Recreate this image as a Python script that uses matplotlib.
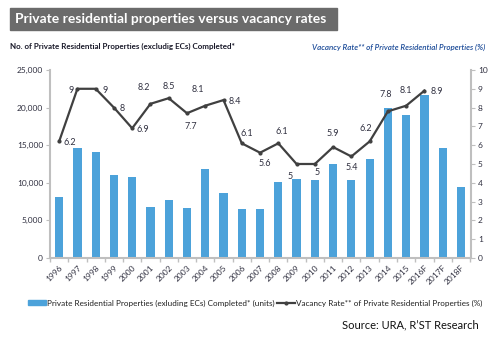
import matplotlib.pyplot as plt
from matplotlib.patches import Rectangle
from matplotlib.lines import Line2D
from matplotlib.ticker import FuncFormatter, FixedLocator

plt.rcParams['font.family'] = ['Lato', 'DejaVu Sans']

years = ["1996", "1997", "1998", "1999", "2000", "2001", "2002", "2003",
         "2004", "2005", "2006", "2007", "2008", "2009", "2010", "2011",
         "2012", "2013", "2014", "2015", "2016F", "2017F", "2018F"]
completed = [8100, 14600, 14100, 11050, 10800, 6800, 7700, 6650, 11850, 8650,
             6550, 6550, 10100, 10500, 10400, 12500, 10400, 13150, 20000,
             19000, 21700, 14600, 9500]
vacancy = [6.2, 9, 9, 8, 6.9, 8.2, 8.5, 7.7, 8.1, 8.4, 6.1, 5.6, 6.1, 5, 5,
           5.9, 5.4, 6.2, 7.8, 8.1, 8.9]

# where each vacancy label sits relative to its point (pixels)
label_offsets = [(11, -1), (-6, -2), (9, -2), (8, -1), (11, -1), (-7, 16),
                 (0, 12), (4, -13), (-7, 16), (11, -1), (5, 10), (5, -11),
                 (4, 12), (-6, -13), (2, -9), (0, 14), (0, -11), (-4, 13),
                 (-2, 17), (0, 15), (12, -1)]

bar_color = "#4ca2da"
line_color = "#404040"
spine_color = "#bfbfbf"
text_color = "#303040"

fig = plt.figure(figsize=(5, 3.48), dpi=100)
ax = fig.add_axes([0.1, 0.2586, 0.842, 0.5403])
ax2 = ax.twinx()

x = list(range(len(years)))
ax.bar(x, completed, width=0.45, color=bar_color, zorder=2)
ax.set_xlim(-0.5, len(years) - 0.45)
ax.set_ylim(0, 25000)
ax.set_yticks(range(0, 25001, 5000))
ax.yaxis.set_major_formatter(FuncFormatter(lambda v, p: f"{int(v):,}"))

ax.set_xticks(x)
ax.set_xticklabels(years, rotation=45, ha="right", rotation_mode="anchor",
                   fontsize=6, color=text_color)
ax.tick_params(axis="x", which="major", length=0, pad=4)
ax.xaxis.set_minor_locator(FixedLocator([i + 0.5 for i in range(-1, len(years))]))
ax.tick_params(axis="x", which="minor", length=3, color=spine_color, width=1)
ax.tick_params(axis="y", length=3, color=spine_color, labelsize=6,
               labelcolor=text_color, pad=2)

xv = x[:len(vacancy)]
ax2.plot(xv, vacancy, color=line_color, lw=1.6, marker="o", ms=2, zorder=3)
ax2.set_ylim(0, 10)
ax2.set_yticks(range(0, 11))
ax2.tick_params(axis="y", length=3, color=spine_color, labelsize=6,
                labelcolor=text_color, pad=2)

for xi, v, (dx, dy) in zip(xv, vacancy, label_offsets):
    ax2.annotate(f"{v:g}", (xi, v), xytext=(dx, dy), textcoords="offset pixels",
                 ha="center", va="center", fontsize=6.5, color=text_color)

for a in (ax, ax2):
    a.spines["top"].set_visible(False)
    for s in ("left", "right", "bottom"):
        a.spines[s].set_color(spine_color)
        a.spines[s].set_linewidth(1.5)
ax2.spines["left"].set_visible(False)
ax2.spines["bottom"].set_visible(False)
ax.spines["right"].set_visible(False)

# title banner
fig.patches.append(Rectangle((10 / 500, 1 - 30 / 348), 327 / 500, 22 / 348,
                             transform=fig.transFigure, color="#6b6b6b"))
fig.text(15 / 500, 1 - 19 / 348, "Private residential properties versus vacancy rates",
         color="white", fontsize=10, fontweight="bold", va="center")

fig.text(10 / 500, 1 - 46 / 348,
         "No. of Private Residential Properties (excludig ECs) Completed*",
         fontsize=5.8, fontweight="bold", color="#1a1a2a", va="center")
fig.text(485 / 500, 1 - 47 / 348,
         "Vacancy Rate** of Private Residential Properties (%)",
         fontsize=5.8, style="italic", fontweight="semibold", color="#1f4e9a",
         va="center", ha="right")

handles = [Rectangle((0, 0), 1, 1, color=bar_color),
           Line2D([], [], color=line_color, lw=1.6, marker="o", ms=2)]
fig.legend(handles,
           ["Private Residential Properties (exluding ECs) Completed* (units)",
            "Vacancy Rate** of Private Residential Properties (%)"],
           loc="center", bbox_to_anchor=(255 / 500, 1 - 303 / 348), ncol=2,
           frameon=False, fontsize=5.9, handlelength=2.2, handleheight=0.6,
           handletextpad=0.1, columnspacing=0.3, labelcolor="#202020")

fig.text(479 / 500, 1 - 325 / 348, "Source: URA, R\u2019ST Research",
         fontsize=8, ha="right", va="center", color="#111111")

fig.savefig("out.png", dpi=100)
